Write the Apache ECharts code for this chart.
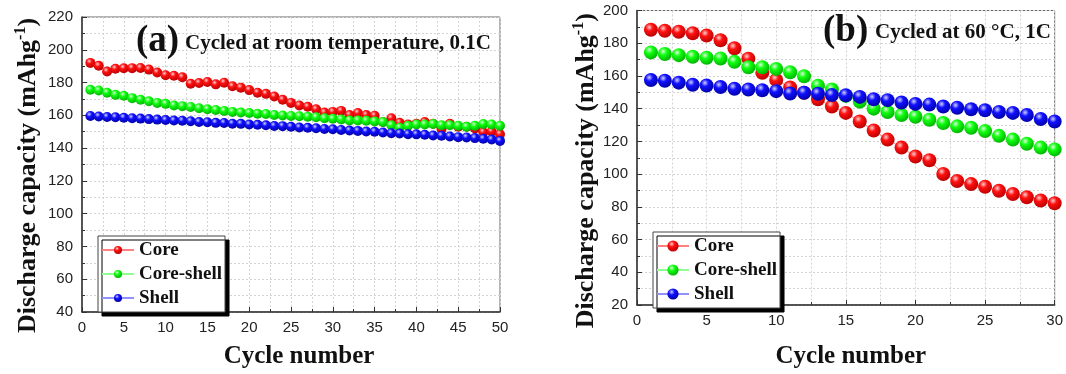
<!DOCTYPE html>
<html>
<head>
<meta charset="utf-8">
<script src="https://cdn.jsdelivr.net/npm/echarts@6/dist/echarts.min.js"></script>
<style>
  html, body { margin: 0; padding: 0; background: #fff; }
  #chart { width: 1066px; height: 374px; }
</style>
</head>
<body>
<div id="chart"></div>
<script>
// (a) room temperature, 0.1C — cycles 1..50
const cyclesA = Array.from({ length: 50 }, (_, i) => i + 1);
const coreA = [192.0, 190.2, 186.7, 188.4, 188.7, 188.8, 188.9, 187.9, 186.1, 184.5,
  184.1, 183.2, 179.3, 179.7, 180.3, 178.9, 179.9, 177.7, 176.9, 175.4,
  173.8, 173.1, 171.5, 169.5, 167.6, 166.0, 165.2, 163.7, 161.7, 162.1,
  162.7, 160.2, 161.4, 160.2, 159.8, 155.9, 158.2, 155.5, 154.4, 154.9,
  155.9, 154.9, 151.6, 154.9, 153.0, 153.0, 152.0, 149.7, 150.1, 148.5];
const coreShellA = [175.6, 175.2, 173.8, 172.5, 171.9, 170.5, 169.5, 168.6, 167.6, 167.0,
  166.0, 165.6, 165.1, 164.3, 163.7, 163.3, 162.7, 162.1, 161.7, 161.4,
  161.0, 160.8, 160.2, 159.9, 159.6, 159.4, 159.2, 158.8, 158.2, 157.9,
  157.5, 156.9, 156.9, 156.7, 156.3, 155.9, 154.0, 152.4, 153.6, 154.4,
  154.4, 154.7, 154.0, 154.0, 153.6, 153.0, 153.6, 154.7, 154.4, 153.6];
const shellA = [159.6, 159.3, 159.0, 158.8, 158.5, 158.2, 158.0, 157.7, 157.4, 157.1,
  156.8, 156.7, 156.4, 155.9, 155.8, 155.4, 155.3, 154.9, 154.8, 154.4,
  154.2, 153.9, 153.5, 153.4, 153.0, 152.6, 152.4, 152.1, 151.7, 151.5,
  151.1, 150.7, 150.5, 150.1, 150.0, 149.5, 149.1, 148.9, 148.5, 148.4,
  148.1, 147.7, 147.5, 147.1, 146.7, 146.5, 146.1, 145.7, 145.2, 144.4];

// (b) 60 °C, 1C — cycles 1..30
const cyclesB = Array.from({ length: 30 }, (_, i) => i + 1);
const coreB = [188.2, 187.6, 187.0, 186.1, 184.7, 181.8, 176.9, 170.5, 161.9, 157.5,
  153.0, 149.7, 145.8, 141.3, 137.4, 132.2, 126.7, 121.1, 116.2, 110.8,
  108.5, 100.1, 95.8, 93.9, 92.3, 89.8, 87.8, 85.9, 83.9, 82.2];
const coreShellB = [174.4, 173.4, 172.7, 171.7, 171.1, 170.7, 168.6, 165.3, 165.3, 164.3,
  162.3, 159.8, 154.0, 151.7, 147.8, 144.3, 140.0, 138.0, 136.1, 135.1,
  133.2, 131.2, 129.2, 128.3, 126.3, 123.4, 121.1, 118.6, 116.2, 115.1];
const shellB = [157.5, 157.1, 155.9, 154.6, 154.2, 153.2, 152.2, 151.7, 151.3, 150.7,
  149.3, 149.7, 149.1, 148.3, 148.2, 147.2, 145.8, 145.2, 143.8, 142.9,
  142.5, 141.3, 140.6, 139.6, 139.0, 138.0, 137.4, 136.1, 133.7, 132.2];

const names = ['Core', 'Core-shell', 'Shell'];
const serif = '"Liberation Serif", "DejaVu Serif", serif';
const sans = '"Liberation Sans", Arial, sans-serif';

const ball = (hi, mid, edge) => ({
  type: 'radial', x: 0.38, y: 0.32, r: 0.75,
  colorStops: [
    { offset: 0, color: hi },
    { offset: 0.35, color: mid },
    { offset: 1, color: edge }
  ]
});
const colours = [
  { fill: ball('#ffd0d0', '#ff1010', '#b00000'), line: '#ff8080' },
  { fill: ball('#d8ffd8', '#10ff10', '#00a800'), line: '#90ff90' },
  { fill: ball('#d0d0ff', '#1010ff', '#00009a'), line: '#9090ff' }
];

const pairs = (xs, ys) => xs.map((x, i) => [x, ys[i]]);

const makeSeries = (idx, data, size) => names.map((name, k) => ({
  name,
  type: 'line',
  xAxisIndex: idx,
  yAxisIndex: idx,
  data: pairs(idx === 0 ? cyclesA : cyclesB, data[k]),
  symbol: 'circle',
  symbolSize: size,
  itemStyle: { color: colours[k].fill, borderWidth: 0 },
  lineStyle: { color: colours[k].line, width: 1 },
  z: 3 + k,
  animation: false
}));

const gridLine = { show: true, lineStyle: { color: '#d4d4d4', type: [2, 2], width: 1 } };

const xAxisFor = (grid, max) => ({
  type: 'value', gridIndex: grid, min: 0, max, interval: 5,
  name: 'Cycle number', nameLocation: 'middle', nameGap: grid === 0 ? 32 : 39,
  nameTextStyle: { fontFamily: serif, fontWeight: 'bold', fontSize: 25, color: '#111', padding: [0, 0, 0, grid === 0 ? 16 : 10] },
  axisLine: { lineStyle: { color: '#333', width: 1.5 } },
  axisTick: { inside: true, length: 5, lineStyle: { color: '#333' } },
  minorTick: { show: true, splitNumber: 2, length: 3, lineStyle: { color: '#333' } },
  axisLabel: { fontFamily: sans, fontSize: 15, color: '#222', margin: 8 },
  splitLine: gridLine,
  minorSplitLine: gridLine
});

const yAxisFor = (grid, min, max) => ({
  type: 'value', gridIndex: grid, min, max, interval: 20,
  name: '{n|Discharge capacity (mAhg}{s|-1}{n|)}',
  nameLocation: 'middle', nameGap: grid === 0 ? 39 : 33,
  nameTextStyle: {
    padding: [0, grid === 0 ? 22 : 26, 0, 0],
    rich: {
      n: { fontFamily: serif, fontWeight: 'bold', fontSize: 26, color: '#111', lineHeight: 30 },
      s: { fontFamily: serif, fontWeight: 'bold', fontSize: 16, color: '#111', lineHeight: 16, verticalAlign: 'top' }
    }
  },
  axisLine: { lineStyle: { color: '#333', width: 1.5 } },
  axisTick: { inside: true, length: 5, lineStyle: { color: '#333' } },
  minorTick: { show: true, splitNumber: 2, length: 3, lineStyle: { color: '#333' } },
  axisLabel: { fontFamily: sans, fontSize: 15, color: '#222', margin: 9 },
  splitLine: gridLine,
  minorSplitLine: gridLine
});

const legendFor = (left, top, size) => ({
  orient: 'vertical', left, top,
  data: names,
  itemWidth: 32, itemHeight: size, itemGap: 4,
  padding: [4, 3, 4, 3],
  backgroundColor: '#fff',
  borderColor: '#444', borderWidth: 1,
  shadowColor: '#000', shadowBlur: 0, shadowOffsetX: 4, shadowOffsetY: 4,
  textStyle: { fontFamily: serif, fontWeight: 'bold', fontSize: 19, color: '#111', lineHeight: 20 },
  selectedMode: false
});

const chart = echarts.init(document.getElementById('chart'));
chart.setOption({
  animation: false,
  backgroundColor: '#fff',
  title: [
    { text: '(a)', left: 131, top: 18, textStyle: { fontFamily: serif, fontWeight: 'bold', fontSize: 37, color: '#111' } },
    { text: 'Cycled at room temperature, 0.1C', left: 180, top: 28, textStyle: { fontFamily: serif, fontWeight: 'bold', fontSize: 21, color: '#111' } },
    { text: '(b)', left: 818, top: 8, textStyle: { fontFamily: serif, fontWeight: 'bold', fontSize: 37, color: '#111' } },
    { text: 'Cycled at 60 °C, 1C', left: 870, top: 17, textStyle: { fontFamily: serif, fontWeight: 'bold', fontSize: 21, color: '#111' } }
  ],
  legend: [
    legendFor(98, 236, 10),
    legendFor(653, 232, 14)
  ],
  grid: [
    { left: 82, top: 17, width: 418, height: 308, show: true, borderColor: '#666', borderWidth: 1, backgroundColor: 'transparent' },
    { left: 637, top: 10.5, width: 420, height: 308.5, show: true, borderColor: '#666', borderWidth: 1, backgroundColor: 'transparent' }
  ],
  xAxis: [xAxisFor(0, 50), xAxisFor(1, 30)],
  yAxis: [yAxisFor(0, 40, 220), yAxisFor(1, 20, 200)],
  series: [
    ...makeSeries(0, [coreA, coreShellA, shellA], 10),
    ...makeSeries(1, [coreB, coreShellB, shellB], 14)
  ]
});
</script>
</body>
</html>
